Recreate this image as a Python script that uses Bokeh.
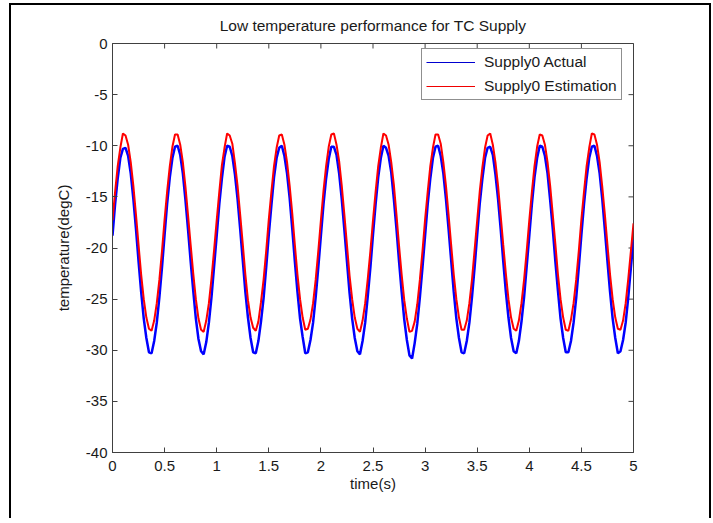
import math
from bokeh.plotting import figure
from bokeh.models import Range1d, Legend, LegendItem, FixedTicker, ColumnDataSource
from bokeh.embed import file_html
from bokeh.resources import INLINE

title_text = "Low temperature performance for TC Supply"
x_label = "time(s)"
y_label = "temperature(degC)"
series_names = ["Supply0 Actual", "Supply0 Estimation"]

x_ticks = [0, 0.5, 1, 1.5, 2, 2.5, 3, 3.5, 4, 4.5, 5]
x_tick_labels = ["0", "0.5", "1", "1.5", "2", "2.5", "3", "3.5", "4", "4.5", "5"]
y_ticks = [0, -5, -10, -15, -20, -25, -30, -35, -40]
y_tick_labels = ["0", "-5", "-10", "-15", "-20", "-25", "-30", "-35", "-40"]

time_s = [
    0.0, 0.025, 0.05, 0.075, 0.1, 0.125, 0.15, 0.175, 0.2, 0.225, 0.25, 0.275, 0.3, 0.325, 0.35, 0.375, 0.4, 0.425, 0.45, 0.475,
    0.5, 0.525, 0.55, 0.575, 0.6, 0.625, 0.65, 0.675, 0.7, 0.725, 0.75, 0.775, 0.8, 0.825, 0.85, 0.875, 0.9, 0.925, 0.95, 0.975,
    1.0, 1.025, 1.05, 1.075, 1.1, 1.125, 1.15, 1.175, 1.2, 1.225, 1.25, 1.275, 1.3, 1.325, 1.35, 1.375, 1.4, 1.425, 1.45, 1.475,
    1.5, 1.525, 1.55, 1.575, 1.6, 1.625, 1.65, 1.675, 1.7, 1.725, 1.75, 1.775, 1.8, 1.825, 1.85, 1.875, 1.9, 1.925, 1.95, 1.975,
    2.0, 2.025, 2.05, 2.075, 2.1, 2.125, 2.15, 2.175, 2.2, 2.225, 2.25, 2.275, 2.3, 2.325, 2.35, 2.375, 2.4, 2.425, 2.45, 2.475,
    2.5, 2.525, 2.55, 2.575, 2.6, 2.625, 2.65, 2.675, 2.7, 2.725, 2.75, 2.775, 2.8, 2.825, 2.85, 2.875, 2.9, 2.925, 2.95, 2.975,
    3.0, 3.025, 3.05, 3.075, 3.1, 3.125, 3.15, 3.175, 3.2, 3.225, 3.25, 3.275, 3.3, 3.325, 3.35, 3.375, 3.4, 3.425, 3.45, 3.475,
    3.5, 3.525, 3.55, 3.575, 3.6, 3.625, 3.65, 3.675, 3.7, 3.725, 3.75, 3.775, 3.8, 3.825, 3.85, 3.875, 3.9, 3.925, 3.95, 3.975,
    4.0, 4.025, 4.05, 4.075, 4.1, 4.125, 4.15, 4.175, 4.2, 4.225, 4.25, 4.275, 4.3, 4.325, 4.35, 4.375, 4.4, 4.425, 4.45, 4.475,
    4.5, 4.525, 4.55, 4.575, 4.6, 4.625, 4.65, 4.675, 4.7, 4.725, 4.75, 4.775, 4.8, 4.825, 4.85, 4.875, 4.9, 4.925, 4.95, 4.975,
    5.0,
]

supply0_actual = [
    -18.8, -15.7, -13.2, -11.2, -10.3, -10.2, -11.0, -12.7, -15.2, -18.1, -21.3, -24.3, -26.9, -28.8, -30.2, -30.3, -29.1, -27.3, -24.8, -21.9,
    -18.7, -15.6, -13.1, -11.2, -10.1, -10.0, -10.9, -12.7, -15.3, -18.2, -21.3, -24.2, -26.9, -28.9, -30.1, -30.4, -29.2, -27.3, -24.8, -21.8,
    -18.8, -15.7, -13.2, -11.1, -10.0, -10.1, -11.0, -12.8, -15.2, -18.1, -21.2, -24.3, -26.8, -28.8, -30.2, -30.3, -29.1, -27.2, -24.9, -21.9,
    -18.7, -15.8, -13.1, -11.2, -10.2, -10.0, -11.0, -12.7, -15.1, -18.1, -21.3, -24.3, -26.9, -28.7, -30.3, -30.2, -29.0, -27.3, -24.8, -21.9,
    -18.8, -15.7, -13.2, -11.3, -10.1, -10.1, -10.9, -12.7, -15.2, -18.2, -21.3, -24.4, -26.9, -28.8, -30.1, -30.4, -29.1, -27.3, -24.7, -21.9,
    -18.7, -15.7, -13.1, -11.2, -10.0, -10.2, -11.0, -12.6, -15.2, -18.1, -21.3, -24.3, -27.0, -29.0, -30.5, -30.8, -29.3, -27.4, -24.8, -21.9,
    -18.8, -15.7, -13.2, -11.2, -10.1, -10.0, -11.0, -12.7, -15.2, -18.1, -21.2, -24.3, -26.9, -28.8, -30.2, -30.3, -29.1, -27.3, -24.8, -21.9,
    -18.7, -15.6, -13.2, -11.2, -10.2, -10.1, -10.9, -12.8, -15.2, -18.1, -21.3, -24.3, -26.8, -28.8, -30.1, -30.3, -29.1, -27.2, -24.8, -21.8,
    -18.8, -15.7, -13.1, -11.2, -10.0, -10.1, -11.0, -12.7, -15.3, -18.1, -21.3, -24.2, -26.9, -28.8, -30.2, -30.2, -29.1, -27.3, -24.9, -21.9,
    -18.7, -15.7, -13.2, -11.2, -10.1, -10.0, -11.0, -12.7, -15.2, -18.2, -21.3, -24.3, -26.9, -28.8, -30.3, -30.1, -29.0, -27.3, -24.8, -21.9,
    -19.2,
]

supply0_estimation = [
    -17.3, -14.5, -12.0, -10.2, -8.8, -9.0, -9.9, -11.6, -13.9, -16.7, -19.7, -22.6, -25.0, -26.8, -27.9, -28.1, -27.1, -25.4, -23.1, -20.3,
    -17.2, -14.4, -12.0, -10.1, -8.9, -8.9, -9.9, -11.6, -14.0, -16.8, -19.7, -22.5, -25.0, -26.9, -28.0, -28.2, -27.1, -25.4, -23.0, -20.2,
    -17.3, -14.5, -11.9, -10.2, -8.8, -9.0, -9.8, -11.7, -13.9, -16.7, -19.6, -22.6, -25.1, -26.8, -27.8, -28.1, -27.2, -25.3, -23.1, -20.3,
    -17.2, -14.5, -12.0, -10.2, -9.0, -8.9, -9.9, -11.6, -13.9, -16.6, -19.7, -22.6, -25.0, -26.8, -28.0, -27.9, -27.0, -25.4, -23.1, -20.3,
    -17.3, -14.4, -12.0, -10.1, -8.9, -8.8, -9.9, -11.5, -13.9, -16.7, -19.7, -22.7, -25.0, -26.8, -27.9, -28.2, -27.1, -25.4, -23.0, -20.3,
    -17.3, -14.5, -12.0, -10.2, -8.8, -9.0, -9.9, -11.6, -13.8, -16.7, -19.8, -22.6, -25.1, -26.9, -28.2, -28.1, -27.2, -25.5, -23.1, -20.3,
    -17.2, -14.5, -12.0, -10.2, -8.9, -8.9, -9.8, -11.6, -13.9, -16.7, -19.7, -22.6, -25.0, -26.8, -28.0, -28.0, -27.1, -25.4, -23.1, -20.2,
    -17.3, -14.4, -12.1, -10.2, -9.0, -8.8, -9.9, -11.6, -13.9, -16.8, -19.7, -22.5, -25.0, -26.8, -27.9, -28.1, -27.1, -25.4, -23.1, -20.3,
    -17.3, -14.5, -12.0, -10.1, -8.9, -9.0, -9.9, -11.6, -13.9, -16.7, -19.6, -22.6, -25.0, -26.8, -28.0, -28.1, -27.0, -25.4, -23.1, -20.3,
    -17.2, -14.5, -12.0, -10.2, -8.8, -8.9, -9.9, -11.6, -14.0, -16.7, -19.7, -22.6, -25.0, -26.8, -27.9, -28.0, -27.1, -25.4, -23.0, -20.3,
    -17.6,
]

FONT = "Liberation Sans"
AXIS_COLOR = "#404040"
TEXT_COLOR = "#1a1a1a"

x_min, x_max = x_ticks[0], x_ticks[-1]
y_min, y_max = y_ticks[-1], y_ticks[0]

p = figure(
    frame_width=521, frame_height=409,
    min_border_left=101, min_border_right=76, min_border_top=38, min_border_bottom=66,
    x_range=Range1d(x_min, x_max), y_range=Range1d(y_min, y_max),
    output_backend="svg", toolbar_location=None,
    title=title_text,
    background_fill_color="white", border_fill_color="white",
    styles={
        "border-left": "2px solid black",
        "border-top": "2px solid black",
        "border-right": "2px solid black",
        "margin-top": "3px",
        "margin-left": "9px",
    },
)
p.outline_line_color = AXIS_COLOR
p.outline_line_width = 1
p.grid.visible = False

p.title.text_font = FONT
p.title.text_font_size = "15.5px"
p.title.text_font_style = "normal"
p.title.text_color = TEXT_COLOR
p.title.align = "center"
p.title.standoff = 19

xmap = {v: s for v, s in zip(x_ticks, x_tick_labels)}
ymap = {v: s for v, s in zip(y_ticks, y_tick_labels)}

for ax, ticks, lmap in ((p.xaxis[0], x_ticks, xmap), (p.yaxis[0], y_ticks, ymap)):
    ax.ticker = FixedTicker(ticks=ticks, minor_ticks=[])
    ax.axis_line_color = AXIS_COLOR
    ax.axis_line_width = 1
    ax.major_tick_line_color = AXIS_COLOR
    ax.major_tick_in = 5
    ax.major_tick_out = 0
    ax.minor_tick_line_color = None
    ax.major_label_text_font = FONT
    ax.major_label_text_font_size = "15px"
    ax.major_label_text_color = TEXT_COLOR
    ax.major_label_overrides = lmap
    ax.axis_label_text_font = FONT
    ax.axis_label_text_font_size = "15px"
    ax.axis_label_text_font_style = "normal"
    ax.axis_label_text_color = TEXT_COLOR

p.xaxis[0].axis_label = x_label
p.yaxis[0].axis_label = y_label
p.xaxis[0].major_label_standoff = 8
p.xaxis[0].axis_label_standoff = 1
p.yaxis[0].major_label_standoff = 5
p.yaxis[0].axis_label_standoff = 11

# inward ticks on the top and right edges of the box (clipped to the frame)
p.scatter(x=x_ticks, y=[y_max] * len(x_ticks), marker="dash", size=10,
          angle=math.pi / 2, line_color=AXIS_COLOR, line_width=1)
p.scatter(x=[x_max] * len(y_ticks), y=y_ticks, marker="dash", size=10,
          angle=0, line_color=AXIS_COLOR, line_width=1)

src = ColumnDataSource(data=dict(t=time_s, actual=supply0_actual, est=supply0_estimation))
p.line("t", "actual", source=src, line_color="#0000ff", line_width=2.5)
p.line("t", "est", source=src, line_color="#ff0000", line_width=2)

nan = float("nan")
legend_src = ColumnDataSource(data=dict(t=[nan], v=[nan]))
leg_b = p.line("t", "v", source=legend_src, line_color="#0000d0", line_width=1.2)
leg_r = p.line("t", "v", source=legend_src, line_color="#f00000", line_width=1.2)

legend = Legend(
    items=[LegendItem(label=series_names[0], renderers=[leg_b]),
           LegendItem(label=series_names[1], renderers=[leg_r])],
    location=(309, 352),
    orientation="vertical",
    border_line_color="#202020",
    border_line_width=1,
    background_fill_color="white",
    background_fill_alpha=1,
    label_text_font=FONT,
    label_text_font_size="15.5px",
    label_text_color=TEXT_COLOR,
    glyph_width=49,
    glyph_height=18,
    label_height=18,
    label_standoff=9,
    padding=4,
    spacing=6,
    margin=0,
)
p.add_layout(legend)

open("out.html", "w").write(file_html(p, INLINE))
